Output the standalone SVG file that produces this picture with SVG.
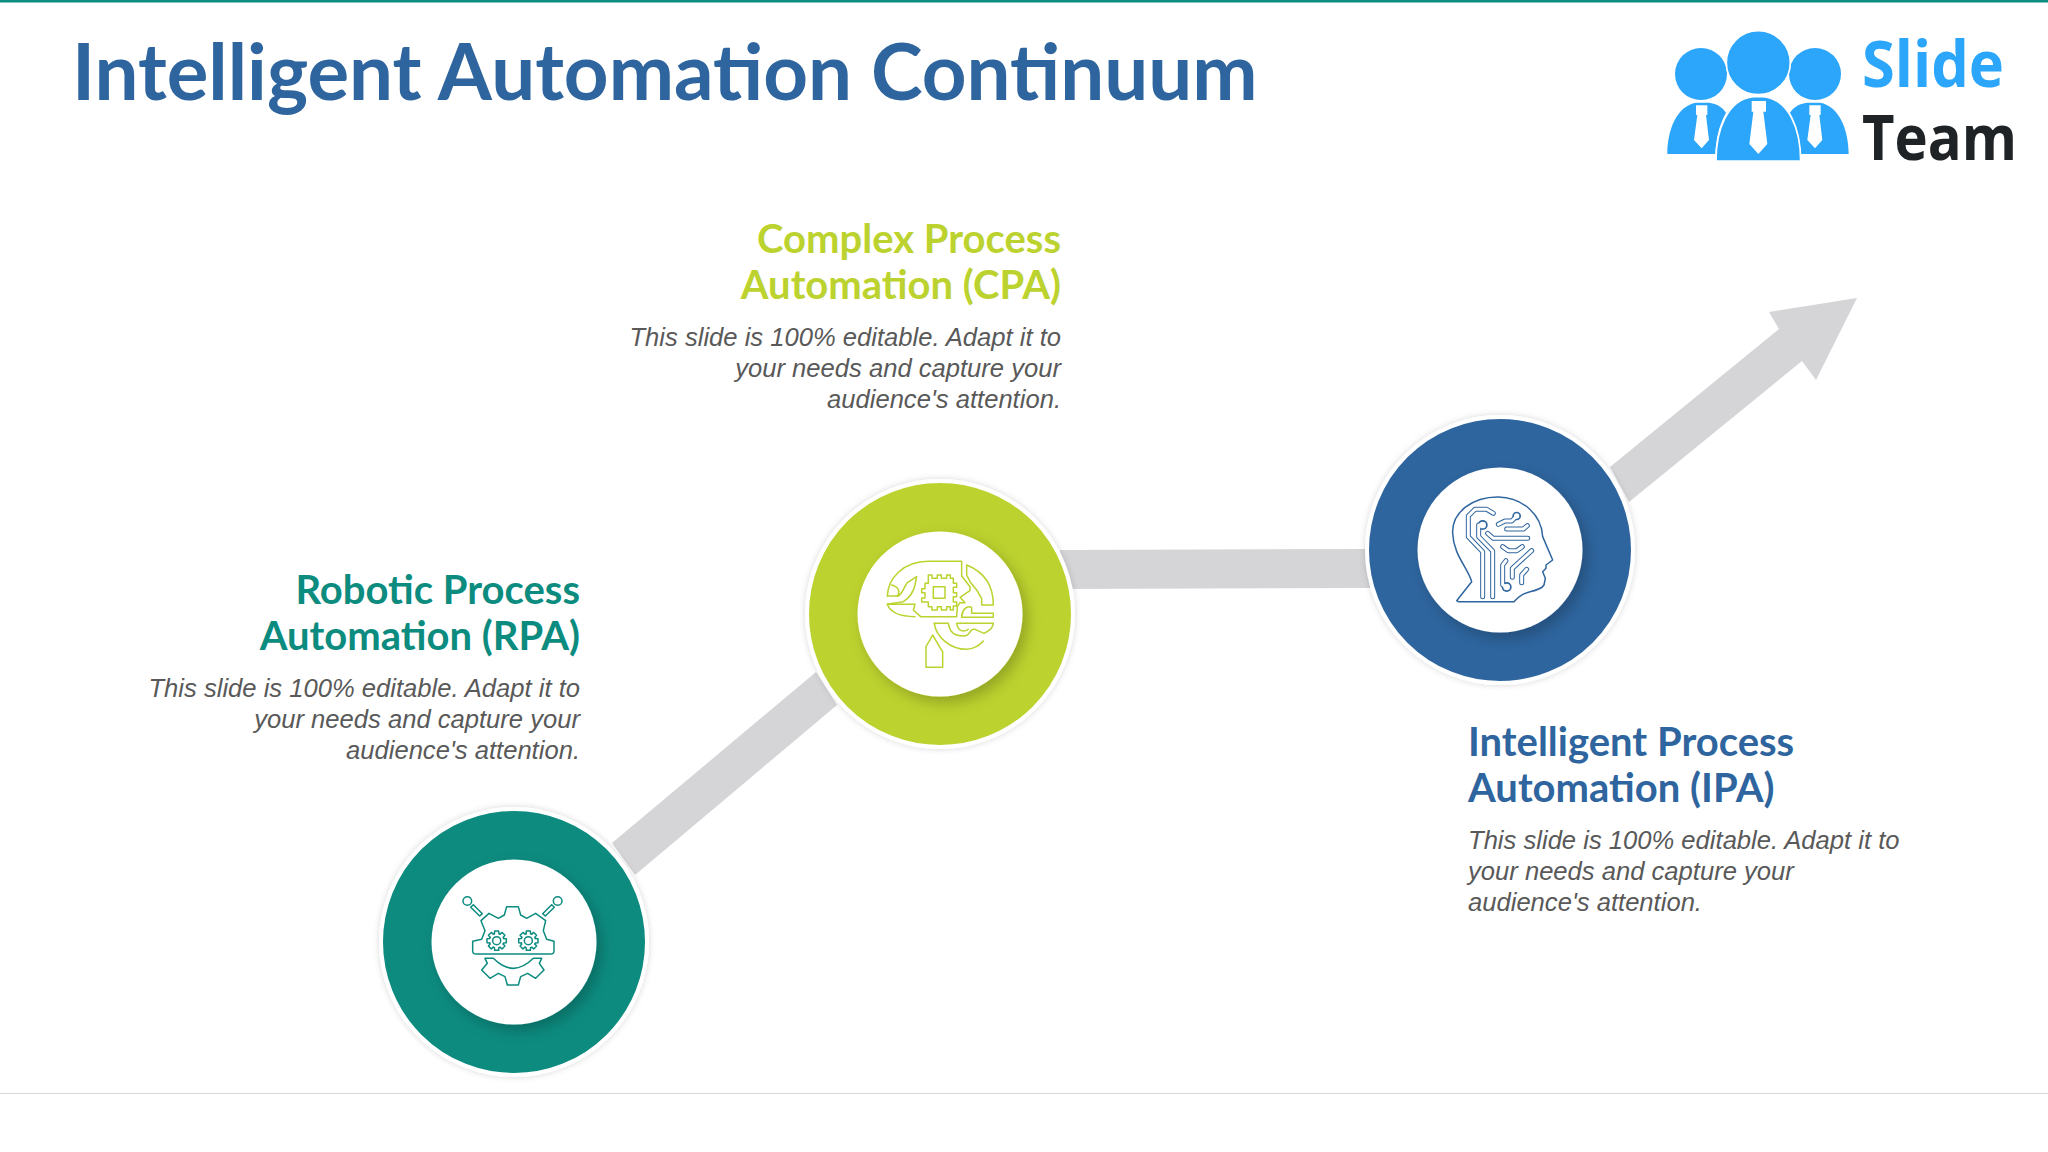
<svg xmlns="http://www.w3.org/2000/svg" xmlns:xlink="http://www.w3.org/1999/xlink" width="2048" height="1152" viewBox="0 0 2048 1152">
<style>
.title{font:700 78px Lato,"Liberation Sans",sans-serif;fill:#2F659E}
.h{font:700 40px Lato,"Liberation Sans",sans-serif}
.b{font:italic 400 25.6px "Liberation Sans",Arial,sans-serif;fill:#595959}
.e{text-anchor:end}
.bar{fill:#D5D4D7}
.ring{stroke:#fff;stroke-width:4;filter:url(#soft)}
.core{fill:#fff;filter:url(#drop)}
.ic{fill:none;stroke-width:4.5;stroke-linejoin:round;stroke-linecap:round}
.to{fill:none;stroke:#2F659E;stroke-width:15;stroke-linecap:round;stroke-linejoin:round}
.ti{fill:none;stroke:#fff;stroke-width:9;stroke-linecap:round;stroke-linejoin:round}
.lg{fill:#2BA6FB}
.lw{fill:#fff}
</style>
<defs>
<filter id="soft" x="-15%" y="-15%" width="130%" height="130%"><feDropShadow dx="0" dy="0" stdDeviation="3" flood-color="#000" flood-opacity=".16"/></filter>
<filter id="drop" x="-25%" y="-25%" width="150%" height="150%"><feDropShadow dx="5" dy="6" stdDeviation="7" flood-color="#000" flood-opacity=".22"/></filter>
<g id="gear"><circle r="12"/>
<path id="t" d="M-6.8-20.9L-6-29H6L6.8-20.9A22 22 0 0 1 10-19.6"/>
<use xlink:href="#t" transform="rotate(45)"/><use xlink:href="#t" transform="rotate(90)"/><use xlink:href="#t" transform="rotate(135)"/><use xlink:href="#t" transform="rotate(180)"/><use xlink:href="#t" transform="rotate(225)"/><use xlink:href="#t" transform="rotate(270)"/><use xlink:href="#t" transform="rotate(315)"/>
</g>
<g id="tr">
<path d="M400 325L380 313H345L325 333V395L368 440V575"/>
<path d="M368 360H356V395L398 438V575"/>
<path d="M383 385L400 400H503"/>
<path d="M415 358L435 348H455L470 333"/>
<path d="M440 372H490L502 362"/>
<path d="M428 425L445 437H470L487 425"/>
<path d="M438 467L428 480V540L440 546"/>
<path d="M457 517V490L515 437"/>
<path d="M485 533V510L500 493"/>
</g>
</defs>
<rect width="2048" height="1152" fill="#fff"/>
<rect width="2048" height="2.500" fill="#0C8B7F"/>
<rect y="1093" width="2048" height="1" fill="#D9D9D9"/>
<text id="title" class="title" x="72" y="100">Intelligent Automation Continuum</text>

<g id="logo" transform="translate(1640 0) scale(.33333)">
<path class="lg" d="M82 462C82 390 110 318 168 308H208C235 312 250 325 258 338C235 380 228 420 226 462Z"/>
<path class="lg" d="M626 462C626 390 598 318 540 308H500C473 312 458 325 450 338C473 380 480 420 482 462Z"/>
<circle class="lg" cx="183" cy="222" r="78"/><circle class="lg" cx="525" cy="222" r="78"/>
<circle class="lg" cx="355" cy="188" r="96" stroke="#fff" stroke-width="5"/>
<path class="lg" d="M228 483C228 390 262 298 340 290H370C448 298 482 390 482 483Z" stroke="#fff" stroke-width="5"/>
<path class="lw" d="M335 303H378V335H370L382 432L355 462L328 432L340 335H335Z"/>
<path class="lw" d="M168 316H202V345H198L207 420L185 445L162 420L172 345H168Z"/>
<path class="lw" d="M508 316H542V345H538L547 420L525 445L502 420L512 345H508Z"/>
</g>
<text x="1862" y="87" font-family="Open Sans,DejaVu Sans,sans-serif" font-weight="700" font-size="64" fill="#2BA6FB" textLength="142" lengthAdjust="spacingAndGlyphs">Slide</text>
<text x="1862" y="160" font-family="Open Sans,DejaVu Sans,sans-serif" font-weight="700" font-size="62" fill="#202326" textLength="155" lengthAdjust="spacingAndGlyphs">Team</text>

<g id="connectors">
<polygon class="bar" points="612,843 816,672 837,705 635,875"/>
<polygon class="bar" points="1060,550 1370,549 1370,588 1060,589"/>
<polygon class="bar" points="1610,467 1779,329 1769,312 1857,298 1816,380 1802,361 1629,502"/>
</g>

<g id="node-rpa">
<circle class="ring" cx="514" cy="942" r="133" fill="#0C8B7F"/>
<circle class="core" cx="514" cy="942" r="82.500"/>
<g transform="translate(370 800) scale(.33333)" class="ic" stroke="#0C8B7F">
<circle cx="292" cy="303" r="13"/><circle cx="563" cy="303" r="13"/>
<path d="M302 322L310 314L337 341L329 348Z"/><path d="M553 322L545 314L518 341L526 348Z"/>
<path d="M318 462H542Q552 462 552 452V424L530 418L520 392L527 362L497 340L470 355L452 345L445 320H410L403 345L385 355L357 340L333 362L345 392L335 418L308 424V452Q308 462 318 462Z"/>
<path d="M345 475H370Q430 535 490 475H515L508 490L522 510L497 535L473 520L452 530L445 555H412L405 530L385 520L360 535L335 510L352 490Z"/>
<use xlink:href="#gear" x="380" y="422"/><use xlink:href="#gear" x="475" y="422"/>
</g>
<text class="h e" fill="#0C8B7F" x="580" y="604">Robotic Process</text>
<text class="h e" fill="#0C8B7F" x="580" y="650">Automation (RPA)</text>
<text class="b e" x="580" y="697">This slide is 100% editable. Adapt it to</text>
<text class="b e" x="580" y="728">your needs and capture your</text>
<text class="b e" x="580" y="759">audience's attention.</text>
</g>

<g id="node-cpa">
<circle class="ring" cx="940" cy="614" r="133" fill="#BCD22E"/>
<circle class="core" cx="940" cy="614" r="82.500"/>
<g transform="translate(800 470) scale(.33333)" class="ic" stroke="#BCD22E">
<path d="M262 378C264 325 310 274 385 274H485V318L510 350V362L480 382L495 398H480L472 410L470 440H362L340 420L345 403H262C272 430 300 440 345 440"/>
<path d="M500 285C550 305 580 345 580 405H545V385L530 360L510 335L500 315Z"/>
<path d="M262 378H295C308 370 312 350 322 338L350 320L345 345C340 370 325 385 310 395L262 403"/>
<path d="M275 345C295 350 302 365 292 378"/>
<path d="M385 315H396V325H412V315H424V325H440V315H451V325H460V340H470V352H460V368H470V380H460V396H470V408H460V420H451V410H440V420H424V410H412V420H396V410H385V396H365V384H375V368H365V356H375V340H385Z"/>
<rect x="400" y="350" width="35" height="35"/>
<path d="M485 440C486 420 500 405 515 412V430H580V442H485Z"/>
<path d="M403 460H445C450 490 465 498 490 498C515 498 505 475 525 478L552 490C570 480 578 475 580 460H470C475 485 490 487 505 478"/>
<path d="M403 460C408 500 450 538 500 538C520 538 540 525 550 513"/>
<path d="M398 495L378 530V592H428V545C420 535 410 515 398 495Z"/>
</g>
<text class="h e" fill="#BCD22E" x="1061" y="253">Complex Process</text>
<text class="h e" fill="#BCD22E" x="1061" y="299">Automation (CPA)</text>
<text class="b e" x="1061" y="346">This slide is 100% editable. Adapt it to</text>
<text class="b e" x="1061" y="377">your needs and capture your</text>
<text class="b e" x="1061" y="408">audience's attention.</text>
</g>

<g id="node-ipa">
<circle class="ring" cx="1500" cy="550" r="133" fill="#2F659E"/>
<circle class="core" cx="1500" cy="550" r="82.500"/>
<g transform="translate(1360 405) scale(.33333)">
<path class="ic" stroke="#2F659E" d="M290 587L335 530C325 490 280 450 278 385C275 320 340 275 415 276C490 278 545 330 548 395L578 465L558 480V490L548 500L556 520L552 540C545 552 530 556 510 560C490 565 475 575 462 590H295Z"/>
<use xlink:href="#tr" class="to"/>
<circle cx="368" cy="360" r="15" fill="#2F659E"/><circle cx="470" cy="333" r="13" fill="#2F659E"/><circle cx="440" cy="546" r="15" fill="#2F659E"/>
<use xlink:href="#tr" class="ti"/>
<circle cx="368" cy="360" r="10" fill="#fff"/><circle cx="470" cy="333" r="8" fill="#fff"/><circle cx="440" cy="546" r="10" fill="#fff"/>
</g>
<text class="h" fill="#2F659E" x="1468" y="756">Intelligent Process</text>
<text class="h" fill="#2F659E" x="1468" y="802">Automation (IPA)</text>
<text class="b" x="1468" y="849">This slide is 100% editable. Adapt it to</text>
<text class="b" x="1468" y="880">your needs and capture your</text>
<text class="b" x="1468" y="911">audience's attention.</text>
</g>
</svg>
